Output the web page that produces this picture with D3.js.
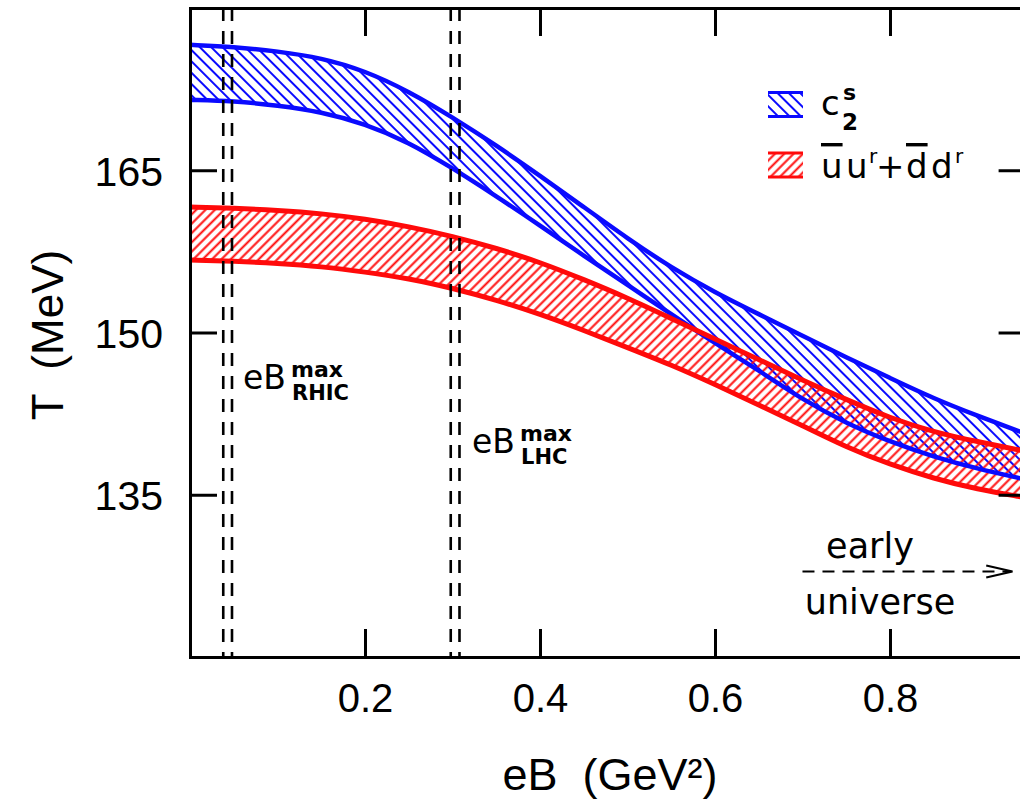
<!DOCTYPE html>
<html><head><meta charset="utf-8">
<script src="https://cdn.jsdelivr.net/npm/d3@7"></script>
<style>body{margin:0;background:#fff}svg{display:block}</style>
</head><body><svg id="c" width="1020" height="803"></svg>
<script>
// ---- data ----
const eB = [0,0.05,0.10,0.15,0.20,0.25,0.30,0.35,0.40,0.45,0.50,0.55,0.60,0.65,0.70,0.75,0.80,0.85,0.90,0.95];
const c2sUpper = [176.6,176.4,176.0,175.4,174.2,172.3,169.9,167.3,164.5,161.6,158.7,156.0,153.7,151.7,149.7,147.7,145.8,143.9,142.3,140.8];
const c2sLower = [171.5,171.4,171.0,170.4,169.3,167.6,165.2,162.6,159.9,157.1,154.4,151.7,149.0,146.5,143.8,141.6,139.9,138.5,137.4,136.5];
const qqUpper  = [161.6,161.5,161.3,161.0,160.5,159.8,158.9,157.8,156.5,154.9,153.2,151.3,149.4,147.5,145.6,143.8,142.1,140.8,139.9,139.1];
const qqLower  = [156.7,156.6,156.4,156.1,155.6,155.0,154.1,153.0,151.7,150.2,148.6,147.0,145.2,143.3,141.4,139.4,137.8,136.5,135.5,134.8];
const xTicks = [0.2,0.4,0.6,0.8];
const yTicks = [135,150,165];
const rhicLines = [0.038,0.048];
const lhcLines = [0.298,0.308];

const svg = d3.select("#c");
const x = d3.scaleLinear().domain([0,0.955]).range([190,1025.6]);
const y = d3.scaleLinear().domain([120,180]).range([657,8]);
const BLUE = "#0a0aff", RED = "#ff0a0a";

const defs = svg.append("defs");
function hatch(id, color, size, angle, w){
  const p = defs.append("pattern").attr("id",id).attr("patternUnits","userSpaceOnUse")
    .attr("width",size).attr("height",size).attr("patternTransform",`rotate(${angle})`);
  p.append("line").attr("x1",size/2).attr("y1",-1).attr("x2",size/2).attr("y2",size+1)
    .attr("stroke",color).attr("stroke-width",w);
}
hatch("hB", BLUE, 8.0, -45, 2.0);
hatch("hR", RED, 6.6, 45, 2.0);

const rows = (lo, hi) => eB.map((v,i)=>({e:v, lo:lo[i], hi:hi[i]}));
const blue = rows(c2sLower, c2sUpper), red = rows(qqLower, qqUpper);
const cv = d3.curveBasis;
const area = d3.area().x(d=>x(d.e)).y0(d=>y(d.lo)).y1(d=>y(d.hi)).curve(cv);
const lineHi = d3.line().x(d=>x(d.e)).y(d=>y(d.hi)).curve(cv);
const lineLo = d3.line().x(d=>x(d.e)).y(d=>y(d.lo)).curve(cv);

const clip = defs.append("clipPath").attr("id","plot");
clip.append("rect").attr("x",190).attr("y",8).attr("width",840).attr("height",649);
const g = svg.append("g").attr("clip-path","url(#plot)");

g.append("path").datum(blue).attr("d",area).attr("fill","url(#hB)");
g.append("path").datum(red).attr("d",area).attr("fill","url(#hR)");
[[blue,BLUE,4.5],[red,RED,5]].forEach(([d,c,w])=>{
  g.append("path").datum(d).attr("d",lineHi).attr("fill","none").attr("stroke",c).attr("stroke-width",w);
  g.append("path").datum(d).attr("d",lineLo).attr("fill","none").attr("stroke",c).attr("stroke-width",w);
});

// dashed vertical lines
g.selectAll(".vl").data(rhicLines.concat(lhcLines)).join("line")
  .attr("x1",d=>x(d)).attr("x2",d=>x(d)).attr("y1",y(180)).attr("y2",y(120))
  .attr("stroke","#000").attr("stroke-width",2.6).attr("stroke-dasharray","13,10");

// axes
function styleAxis(sel){
  sel.selectAll("path.domain").attr("stroke","#000").attr("stroke-width",3).attr("stroke-linecap","square");
  sel.selectAll(".tick line").attr("stroke","#000").attr("stroke-width",3);
}
const ax = svg.append("g").attr("transform",`translate(0,${y(120)})`)
  .call(d3.axisBottom(x).tickValues(xTicks).tickSize(-28).tickSizeOuter(0).tickFormat(d3.format(".1f")));
styleAxis(ax);
ax.selectAll(".tick text").attr("y",55).attr("dy",0).attr("font-family","Liberation Sans, Arial, sans-serif")
  .attr("font-size",40).attr("fill","#000");
const axT = svg.append("g").attr("transform",`translate(0,${y(180)})`)
  .call(d3.axisTop(x).tickValues(xTicks).tickSize(-28).tickSizeOuter(0).tickFormat(""));
styleAxis(axT);
const ayL = svg.append("g").attr("transform",`translate(${x(0)},0)`)
  .call(d3.axisLeft(y).tickValues(yTicks).tickSize(-27).tickSizeOuter(0).tickPadding(27));
styleAxis(ayL);
ayL.selectAll(".tick text").attr("dy","0.36em").attr("font-family","Liberation Sans, Arial, sans-serif")
  .attr("font-size",41).attr("fill","#000");
const ayR = svg.append("g").attr("transform",`translate(${x(0.955)},0)`)
  .call(d3.axisRight(y).tickValues(yTicks).tickSize(-27).tickSizeOuter(0).tickFormat(""));
styleAxis(ayR);

// axis titles
svg.append("text").attr("x",610).attr("y",790).attr("text-anchor","middle")
  .attr("font-family","Liberation Sans, Arial, sans-serif").attr("font-size",45)
  .style("white-space","pre").text("eB  (GeV²)");
svg.append("text").attr("transform","translate(63,335) rotate(-90)").attr("text-anchor","middle")
  .attr("font-family","Liberation Sans, Arial, sans-serif").attr("font-size",44)
  .style("white-space","pre").text("T  (MeV)");

// eB max labels
const LF = "DejaVu Sans, sans-serif";
function eBlabel(x0, base, sub){
  const t = svg.append("text").attr("font-family",LF).attr("fill","#000");
  t.append("tspan").attr("x",x0).attr("y",base).attr("font-size",33).text("eB");
  t.append("tspan").attr("x",x0+48).attr("y",base-12).attr("font-size",22).attr("font-weight","bold").text("max");
  t.append("tspan").attr("x",x0+49).attr("y",base+11).attr("font-size",21).attr("font-weight","bold").text(sub);
}
eBlabel(243, 389, "RHIC");
eBlabel(472, 453, "LHC");

// early universe
svg.append("text").attr("x",870).attr("y",558).attr("text-anchor","middle").attr("font-family",LF)
  .attr("font-size",35).text("early");
svg.append("text").attr("x",880).attr("y",614).attr("text-anchor","middle").attr("font-family",LF)
  .attr("font-size",35).text("universe");
const ay0 = y(127.9);
svg.append("line").attr("x1",x(0.70)).attr("x2",x(0.936)).attr("y1",ay0).attr("y2",ay0)
  .attr("stroke","#000").attr("stroke-width",2).attr("stroke-dasharray","12,8");
svg.append("path").attr("d",`M${x(0.91)},${ay0-6} L${x(0.94)},${ay0} L${x(0.91)},${ay0+6}`)
  .attr("fill","none").attr("stroke","#000").attr("stroke-width",2.2);

// legend
function swatch(y0, pat, color){
  svg.append("rect").attr("x",768).attr("y",y0).attr("width",35).attr("height",24).attr("fill",`url(#${pat})`);
  [y0, y0+24].forEach(yy=>svg.append("line").attr("x1",768).attr("x2",803).attr("y1",yy).attr("y2",yy)
    .attr("stroke",color).attr("stroke-width",3.2));
}
swatch(92.5,"hB",BLUE);
swatch(153,"hR",RED);
const l1 = svg.append("text").attr("font-family",LF).attr("fill","#000");
l1.append("tspan").attr("x",821).attr("y",115).attr("font-size",34).text("c");
l1.append("tspan").attr("x",843).attr("y",100).attr("font-size",22).attr("font-weight","bold").text("s");
l1.append("tspan").attr("x",842).attr("y",130).attr("font-size",23).attr("font-weight","bold").text("2");
const l2 = svg.append("text").attr("font-family",LF).attr("fill","#000").attr("font-size",34);
l2.append("tspan").attr("x",821).attr("y",178).style("text-decoration","overline").text("u");
l2.append("tspan").attr("x",846).attr("y",178).text("u");
l2.append("tspan").attr("x",869).attr("y",163).attr("font-size",20).text("r");
l2.append("tspan").attr("x",876).attr("y",178).text("+");
l2.append("tspan").attr("x",906).attr("y",178).style("text-decoration","overline").text("d");
l2.append("tspan").attr("x",931).attr("y",178).text("d");
l2.append("tspan").attr("x",955).attr("y",163).attr("font-size",20).text("r");
</script></body></html>
